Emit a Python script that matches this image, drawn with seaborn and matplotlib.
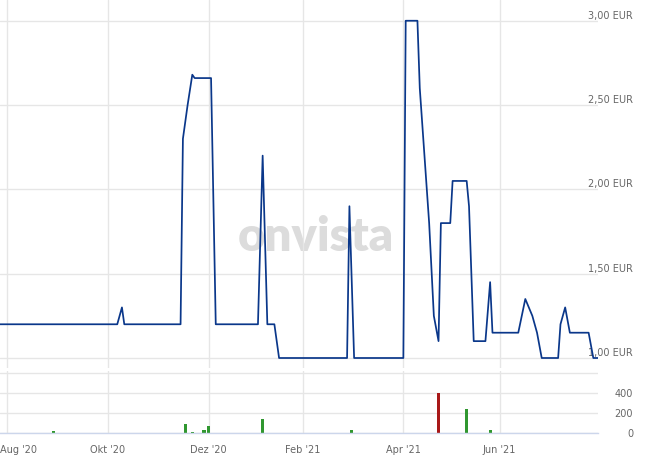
import numpy as np
import pandas as pd
import matplotlib
matplotlib.use("Agg")
import matplotlib.pyplot as plt
import matplotlib.transforms as mtransforms
import seaborn as sns

# exchange holidays (ordinal axis skips them, like the source chart)
HOLIDAYS = ['2020-12-24', '2020-12-25', '2020-12-31', '2021-01-01', '2021-04-02', '2021-04-05']

# price turning points (EUR)
price_dates = ['2020-07-29', '2020-10-07', '2020-10-09', '2020-10-12', '2020-11-13', '2020-11-16',
               '2020-11-18', '2020-11-20', '2020-11-23', '2020-12-02', '2020-12-04', '2021-01-05',
               '2021-01-07', '2021-01-11', '2021-01-14', '2021-01-18', '2021-02-26', '2021-03-01',
               '2021-03-03', '2021-04-01', '2021-04-06', '2021-04-13', '2021-04-14', '2021-04-16',
               '2021-04-20', '2021-04-22', '2021-04-26', '2021-04-27', '2021-05-03', '2021-05-04',
               '2021-05-12', '2021-05-13', '2021-05-17', '2021-05-24', '2021-05-26', '2021-05-27',
               '2021-06-11', '2021-06-16', '2021-06-21', '2021-06-23', '2021-06-25', '2021-07-06',
               '2021-07-07', '2021-07-09', '2021-07-13', '2021-07-23', '2021-07-27', '2021-07-29']
price_values = [1.20, 1.20, 1.30, 1.20, 1.20, 2.30,
                2.50, 2.68, 2.66, 2.66, 1.20, 1.20,
                2.20, 1.20, 1.20, 1.00, 1.00, 1.90,
                1.00, 1.00, 3.00, 3.00, 2.60, 2.20,
                1.80, 1.25, 1.10, 1.80, 1.80, 2.05,
                2.05, 1.90, 1.10, 1.10, 1.45, 1.15,
                1.15, 1.35, 1.25, 1.15, 1.00, 1.00,
                1.20, 1.30, 1.15, 1.15, 1.00, 1.00]

# traded volume
vol_dates = ['2020-08-31', '2020-11-17', '2020-11-20', '2020-11-27', '2020-12-01',
             '2021-01-07', '2021-03-02', '2021-04-26', '2021-05-12', '2021-05-26']
vol_values = [20, 90, 10, 30, 67, 137, 30, 395, 237, 34]
vol_dir = ['up', 'up', 'up', 'up', 'up', 'up', 'up', 'down', 'up', 'up']

month_dates = ['2020-08-01', '2020-10-01', '2020-12-01', '2021-02-01', '2021-04-01', '2021-06-01']
month_labels = ["Aug '20", "Okt '20", "Dez '20", "Feb '21", "Apr '21", "Jun '21"]

price_ticks = [1.0, 1.5, 2.0, 2.5, 3.0]
price_labels = ['1,00 EUR', '1,50 EUR', '2,00 EUR', '2,50 EUR', '3,00 EUR']
vol_ticks = [0, 200, 400, 600]
vol_labels = ['0', '200', '400', '']

LINE_COLOR = '#0a378a'
GRID = '#e6e6e6'
AXIS = '#ccd6eb'
TEXT = '#666666'


def trading_pos(dates):
    d = np.array(dates, dtype='datetime64[D]')
    return np.busday_count(np.datetime64(price_dates[0]), d, holidays=HOLIDAYS)


sns.set_style('white')
plt.rcParams['font.family'] = ['DejaVu Sans']

price_df = pd.DataFrame({'pos': trading_pos(price_dates), 'price': price_values})
vol_df = pd.DataFrame({'pos': trading_pos(vol_dates), 'volume': vol_values, 'dir': vol_dir})
month_pos = trading_pos(month_dates)

fig = plt.figure(figsize=(6.5, 4.66), dpi=100)
ax = fig.add_axes([0, 0.2103, 0.92, 0.7897])
axv = fig.add_axes([0, 0.0708, 0.92, 0.1330], sharex=ax)

# watermark
ax.text(0.528, 0.318, 'onvista', transform=ax.transAxes, ha='center', va='baseline',
        fontsize=34, fontweight='heavy', family=['Lato', 'DejaVu Sans'], color='#dcdcdc', zorder=0)

sns.lineplot(data=price_df, x='pos', y='price', ax=ax, color=LINE_COLOR, linewidth=1.25, zorder=3)

sns.barplot(data=vol_df, x='pos', y='volume', hue='dir', palette={'up': '#1fa81f', 'down': '#c00000'},
            native_scale=True, width=0.66, dodge=False, legend=False, linewidth=0, ax=axv)

# price panel
ax.set_xlim(price_df['pos'].iloc[0], price_df['pos'].iloc[-1])
ax.set_ylim(0.9407, 3.123)
ax.set_yticks(price_ticks)
ax.set_yticklabels(price_labels)
ax.yaxis.tick_right()
ax.tick_params(axis='y', length=0, pad=25.2, labelsize=7, labelcolor=TEXT)
ax.tick_params(axis='x', length=0, labelbottom=False)
for lab in ax.get_yticklabels():
    lab.set_ha('right')
    lab.set_va('bottom')
ax.grid(True, color=GRID, linewidth=1)
ax.set_xlabel('')
ax.set_ylabel('')
for s in ax.spines.values():
    s.set_visible(False)

# volume panel
axv.set_ylim(0, 617)
axv.set_yticks(vol_ticks)
axv.set_yticklabels(vol_labels)
axv.yaxis.tick_right()
axv.tick_params(axis='y', length=0, pad=25.2, labelsize=7, labelcolor=TEXT)
for lab in axv.get_yticklabels():
    lab.set_ha('right')
axv.set_xticks(month_pos)
axv.set_xticklabels(month_labels)
axv.tick_params(axis='x', length=5.8, width=1, color=AXIS, pad=3, labelsize=7, labelcolor=TEXT)
axv.grid(True, color=GRID, linewidth=1)
axv.set_axisbelow(True)
axv.set_xlabel('')
axv.set_ylabel('')
for name, s in axv.spines.items():
    s.set_visible(name == 'bottom')
axv.spines['bottom'].set_color(AXIS)
axv.spines['bottom'].set_linewidth(1)
axv.set_xlim(price_df['pos'].iloc[0], price_df['pos'].iloc[-1])

# first month label sits inside the plot like the source
first = axv.get_xticklabels()[0]
first.set_ha('left')
first.set_transform(first.get_transform() + mtransforms.ScaledTranslation(-7 / 100, 0, fig.dpi_scale_trans))

fig.savefig('out.png', dpi=100)
